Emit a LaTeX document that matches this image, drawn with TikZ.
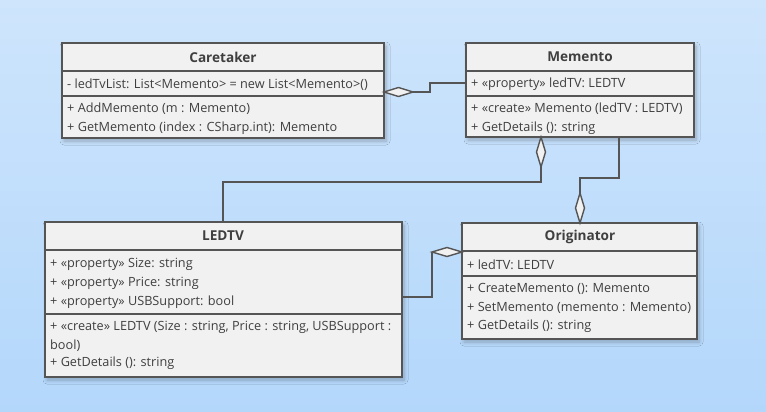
\documentclass[tikz,border=0pt]{standalone}
\usepackage{fontspec}
\setmainfont{Open Sans}
\usetikzlibrary{shadows.blur}
\definecolor{bgtop}{HTML}{CEE5FC}
\definecolor{bgbot}{HTML}{B3D7FB}
\definecolor{boxfill}{HTML}{F1F1F1}
\definecolor{boxline}{HTML}{555555}
\definecolor{txt}{HTML}{3F3F3F}
\tikzset{
  umlbox/.style={draw=boxline, line width=2pt, fill=boxfill,
    blur shadow={shadow blur steps=6, shadow xshift=2pt, shadow yshift=-3pt, shadow opacity=25, shadow blur radius=4pt}},
  divider/.style={draw=boxline, line width=2pt},
  title/.style={font=\fontsize{13.6}{16}\selectfont\bfseries, text=txt},
  row/.style={font=\fontsize{12.7}{14}\selectfont, text=txt, anchor=west, inner sep=0pt},
  conn/.style={draw=boxline, line width=1.6pt},
  agg/.style={draw=boxline, line width=1.4pt, fill=boxfill},
}
\begin{document}
\begin{tikzpicture}[x=1pt,y=-1pt]
\shade[top color=bgtop, bottom color=bgbot] (0,0) rectangle (766,412);
\useasboundingbox (0,0) rectangle (766,412);

% Caretaker
\path[umlbox] (62,43) rectangle (384,138);
\draw[divider] (62,71) -- (384,71);
\draw[divider] (62,96) -- (384,96);
\node[title] (careT) at (223,57) {Caretaker};
\node[row] (care1) at (67,84.5) {- ledTvList: List<Memento> = new List<Memento>()};
\node[row] (care2) at (67,109) {+ AddMemento (m : Memento)};
\node[row] (care3) at (67,128.5) {+ GetMemento (index : CSharp.int): Memento};
\coordinate (careR) at (384,92);

% Memento
\path[umlbox] (466,43) rectangle (694,137);
\draw[divider] (466,71) -- (694,71);
\draw[divider] (466,96) -- (694,96);
\node[title] (memT) at (580,57) {Memento};
\node[row] (mem1) at (471,84) {+ «property» ledTV: LEDTV};
\node[row] (mem2) at (471,109) {+ «create» Memento (ledTV : LEDTV)};
\node[row] (mem3) at (471,128.5) {+ GetDetails (): string};
\coordinate (memL) at (466,83);
\coordinate (memB1) at (541,137);
\coordinate (memB2) at (619,137);

% LEDTV
\path[umlbox] (45,222) rectangle (402,377);
\draw[divider] (45,250) -- (402,250);
\draw[divider] (45,314) -- (402,314);
\node[title] (ledT) at (223,236) {LEDTV};
\node[row] (led1) at (50,264.5) {+ «property» Size: string};
\node[row] (led2) at (50,283.5) {+ «property» Price: string};
\node[row] (led3) at (50,302.5) {+ «property» USBSupport: bool};
\node[row] (led4) at (50,327.5) {+ «create» LEDTV (Size : string, Price : string, USBSupport :};
\node[row] (led5) at (50,345.5) {bool)};
\node[row] (led6) at (50,363.5) {+ GetDetails (): string};
\coordinate (ledTop) at (223,222);
\coordinate (ledR) at (402,297);

% Originator
\path[umlbox] (462,223) rectangle (697,339);
\draw[divider] (462,251) -- (697,251);
\draw[divider] (462,276) -- (697,276);
\node[title] (oriT) at (580,237) {Originator};
\node[row] (ori1) at (467,264.5) {+ ledTV: LEDTV};
\node[row] (ori2) at (467,288.5) {+ CreateMemento (): Memento};
\node[row] (ori3) at (467,307.5) {+ SetMemento (memento : Memento)};
\node[row] (ori4) at (467,326.5) {+ GetDetails (): string};
\coordinate (oriTop) at (580,223);
\coordinate (oriL) at (462,252);

% connectors
\draw[conn] (memL) -- (430,83) -- (430,92) -- ($(careR)+(29,0)$);
\draw[agg] (careR) -- ++(14.5,-4.5) -- ++(14.5,4.5) -- ++(-14.5,4.5) -- cycle;

\draw[conn] ($(memB1)+(0,30)$) -- (541,182) -- (223,182) -- (ledTop);
\draw[agg] (memB1) -- ++(4.5,15) -- ++(-4.5,15) -- ++(-4.5,-15) -- cycle;

\draw[conn] (memB2) -- (619,178) -- (580,178) -- ($(oriTop)+(0,-30)$);
\draw[agg] (oriTop) -- ++(4.5,-15) -- ++(-4.5,-15) -- ++(-4.5,15) -- cycle;

\draw[conn] (ledR) -- (432,297) -- (432,252);
\draw[agg] (oriL) -- ++(-15,-4.5) -- ++(-15,4.5) -- ++(15,4.5) -- cycle;
\end{tikzpicture}
\end{document}
